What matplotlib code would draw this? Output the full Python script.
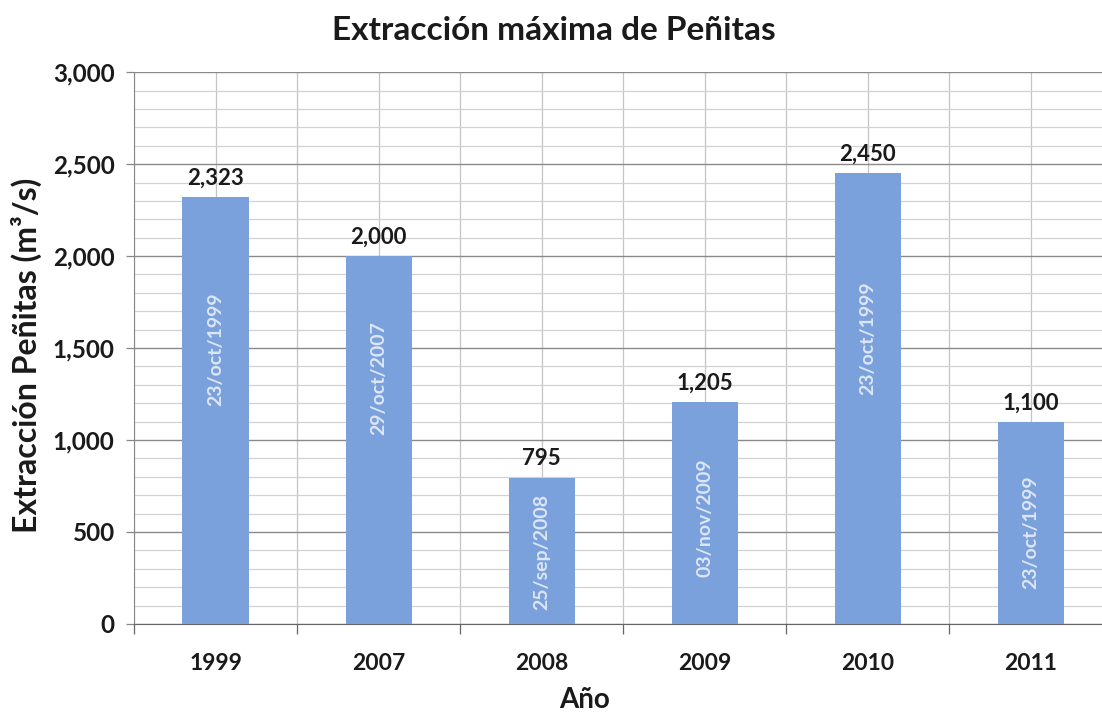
import matplotlib.pyplot as plt
from matplotlib.ticker import MultipleLocator, FuncFormatter

# Data
anios = ['1999', '2007', '2008', '2009', '2010', '2011']
extraccion = [2323, 2000, 795, 1205, 2450, 1100]
fechas = ['23/oct/1999', '29/oct/2007', '25/sep/2008', '03/nov/2009', '23/oct/1999', '23/oct/1999']
# where the date text sits inside each bar (data units)
fecha_y = [1495, 1337, 391, 576, 1554, 500]

plt.rcParams['font.family'] = ['Lato', 'DejaVu Sans']

fig = plt.figure(figsize=(11.02, 7.28), dpi=100)
ax = fig.add_axes([0.1216, 0.1429, 0.8875, 0.758])

x = list(range(len(anios)))
bars = ax.bar(x, extraccion, width=0.405, color='#7ba1dc', zorder=3)

ax.set_xlim(-0.5, 5.5)
ax.set_ylim(0, 3000)

ax.yaxis.set_major_locator(MultipleLocator(500))
ax.yaxis.set_minor_locator(MultipleLocator(100))
ax.yaxis.set_major_formatter(FuncFormatter(lambda v, p: f'{int(v):,}'))

ax.set_xticks(x)
ax.set_xticklabels(anios, fontsize=16.5, fontweight='bold', color='#1a1a1a')
ax.set_xticks([i - 0.5 for i in range(len(anios) + 1)], minor=True)

ax.tick_params(axis='x', which='major', length=0, pad=21)
ax.tick_params(axis='x', which='minor', length=7, width=0.9, color='#666666', direction='out')
ax.tick_params(axis='y', which='major', length=6, width=0.9, color='#888888', pad=8,
               labelsize=17.5, labelcolor='#1a1a1a')
ax.tick_params(axis='y', which='minor', length=0)
for lbl in ax.get_yticklabels():
    lbl.set_fontweight('bold')

ax.grid(axis='y', which='major', color='#8a8a8a', linewidth=1.0, zorder=0)
ax.grid(axis='y', which='minor', color='#d2d2d2', linewidth=0.9, zorder=0)
ax.grid(axis='x', which='both', color='#c4c4c4', linewidth=0.9, zorder=0)
ax.set_axisbelow(True)

for s in ['top', 'right']:
    ax.spines[s].set_visible(False)
ax.spines['left'].set_color('#888888')
ax.spines['bottom'].set_color('#666666')

# value labels above bars
for xi, v in zip(x, extraccion):
    ax.annotate(f'{v:,}', (xi, v), xytext=(0, 6), textcoords='offset points',
                ha='center', va='bottom', fontsize=16, fontweight='bold', color='#1a1a1a')

# date labels inside bars
for xi, f, fy in zip(x, fechas, fecha_y):
    ax.text(xi, fy, f, rotation=90, ha='center', va='center', fontsize=14,
            fontweight='bold', color='#dce6f6', zorder=4)

fig.text(0.503, 1 - 31 / 728, 'Extracción máxima de Peñitas', ha='center', va='center',
         fontsize=24, fontweight='bold', color='#1a1a1a')
fig.text(26 / 1102, 1 - 355 / 728, 'Extracción Peñitas (m³/s)', rotation=90,
         ha='center', va='center', fontsize=23, fontweight='bold', color='#1a1a1a')
fig.text(585 / 1102, 1 - 700 / 728, 'Año', ha='center', va='center',
         fontsize=20, fontweight='bold', color='#1a1a1a')

fig.savefig('out.png', dpi=100)
